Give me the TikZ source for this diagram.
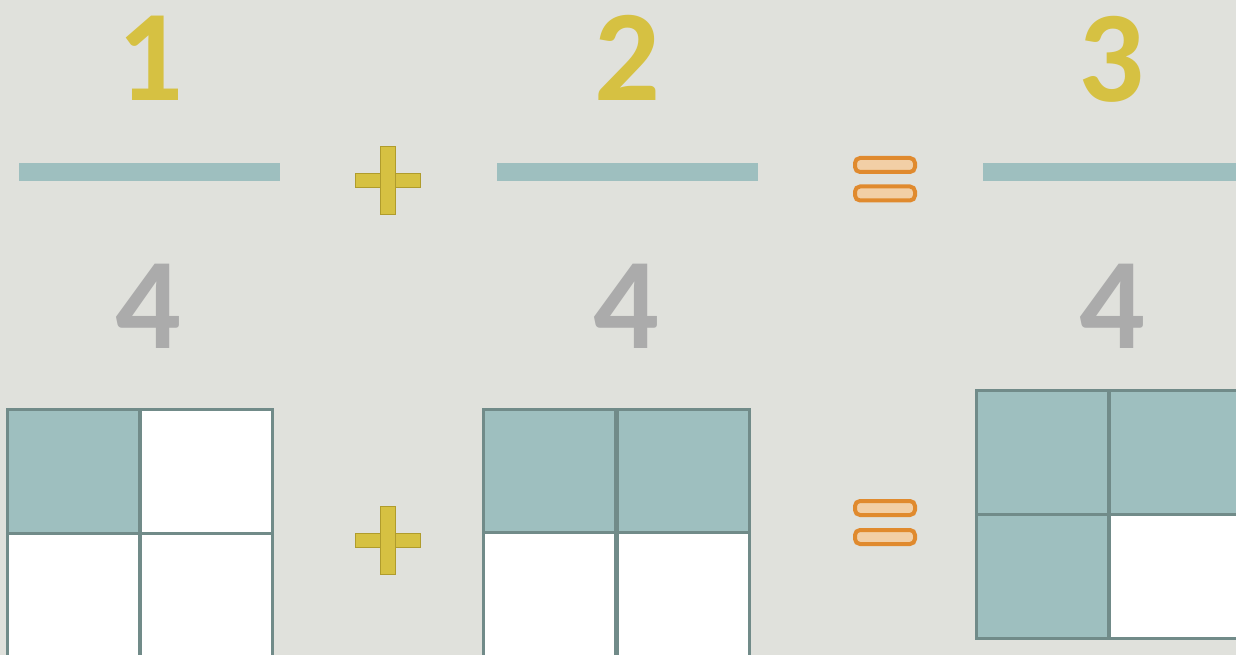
\documentclass[tikz,border=0pt]{standalone}
\usepackage{fontspec}
\setmainfont{Carlito}
\usepackage{tikz}
\usepackage{xcolor}
\definecolor{cBack}{HTML}{E0E1DC}
\definecolor{cTeal}{HTML}{9EBFBF}
\definecolor{cEdge}{HTML}{718B89}
\definecolor{cGold}{HTML}{D6C142}
\definecolor{cGoldDk}{HTML}{B09C2C}
\definecolor{cSilver}{HTML}{ABABAB}
\definecolor{cOrange}{HTML}{E08A2E}
\definecolor{cPeach}{HTML}{F2CFA6}
\tikzset{
  num/.style   ={inner sep=0pt,font=\fontsize{130}{130}\selectfont\bfseries},
  top/.style   ={num,text=cGold},
  bot/.style   ={num,text=cSilver},
  fbar/.style  ={rectangle,fill=cTeal,inner sep=0pt,minimum width=261pt,minimum height=18pt},
  cell/.style  ={rectangle,draw=cEdge,line width=3pt,fill=white,inner sep=0pt,
                 minimum width=132pt,minimum height=124pt},
  full/.style  ={cell,fill=cTeal},
  eqbar/.style ={rectangle,rounded corners=5pt,draw=cOrange,line width=4pt,fill=cPeach,
                 inner sep=0pt,minimum width=60pt,minimum height=14pt},
  plusarm/.style={fill=cGold,draw=cGoldDk,line width=0.6pt},
}
\begin{document}
\begin{tikzpicture}[x=1pt,y=-1pt]
\fill[cBack] (0,0) rectangle (1236,655);
\useasboundingbox (0,0) rectangle (1236,655);

% fractions
\node[top] (n1) at (150,58) {1};
\node[top] (n2) at (627,58) {2};
\node[top] (n3) at (1111,59) {3};
\node[fbar] (b1) at (149.5,172) {};
\node[fbar] (b2) at (627.5,172) {};
\node[fbar] (b3) at (1113.5,172) {};
\node[bot] (d1) at (148,306) {4};
\node[bot] (d2) at (626,306) {4};
\node[bot] (d3) at (1112,306) {4};

% plus signs
\fill[plusarm] (355,173) rectangle (420,187);
\fill[plusarm] (380,146) rectangle (395,214);
\fill[plusarm] (355,533) rectangle (420,547);
\fill[plusarm] (380,506) rectangle (395,574);

% equals signs
\node[eqbar] (e1) at (885,165) {};
\node[eqbar] (e2) at (885,193.5) {};
\node[eqbar] (e3) at (885,508) {};
\node[eqbar] (e4) at (885,537) {};

% one quarter
\node[full] (pa1) at (73,471) {};
\node[cell] (pa2) at (206,471) {};
\node[cell] (pa3) at (73,595) {};
\node[cell] (pa4) at (206,595) {};
% two quarters
\node[full] (pb1) at (549,471) {};
\node[full] (pb2) at (683,471) {};
\node[cell] (pb3) at (549,594) {};
\node[cell] (pb4) at (683,594) {};
% three quarters
\node[full] (pc1) at (1042,452) {};
\node[full] (pc2) at (1175,452) {};
\node[full] (pc3) at (1042,576) {};
\node[cell] (pc4) at (1175,576) {};
\end{tikzpicture}
\end{document}
